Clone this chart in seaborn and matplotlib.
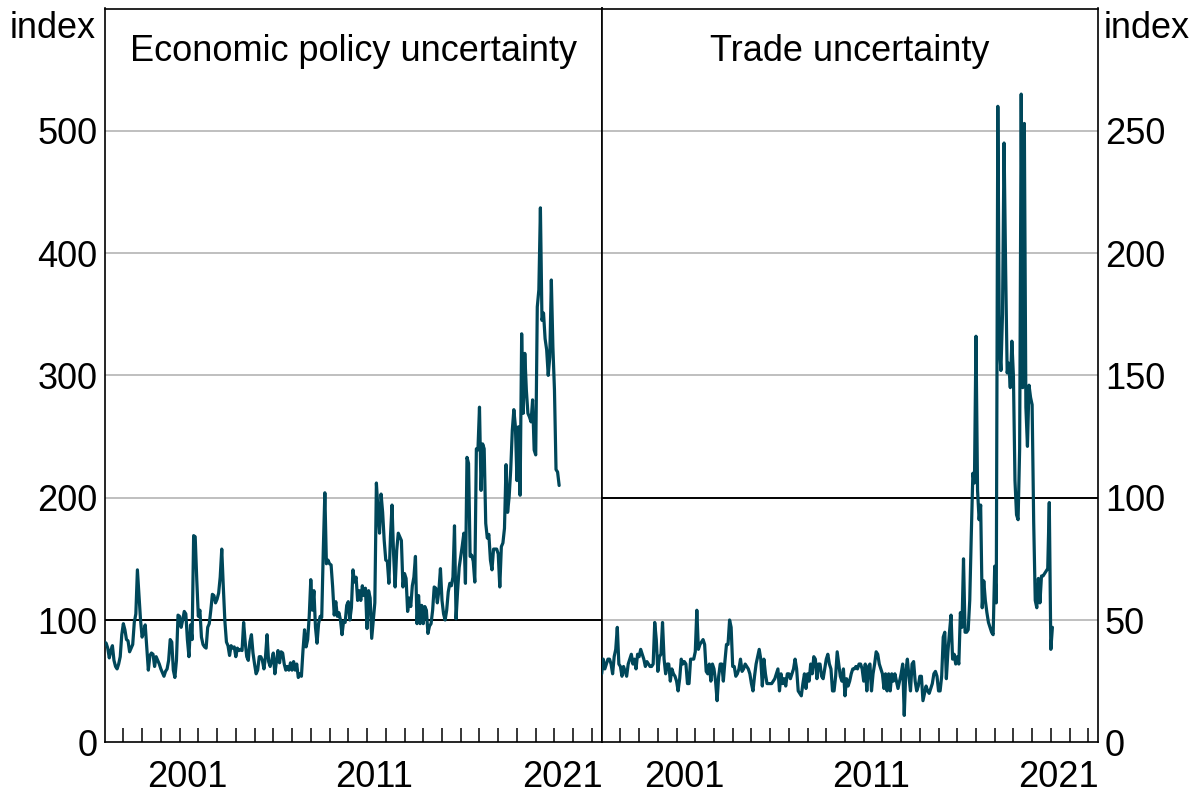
import numpy as np
import pandas as pd
import matplotlib
matplotlib.use("Agg")
import matplotlib.pyplot as plt
import seaborn as sns

# Monthly index values, starting January 1997
START_YEAR = 1997

epu_index = [
    82, 81, 77, 69, 75, 79, 67, 62, 60, 64, 70, 88,
    97, 92, 84, 83, 74, 77, 80, 98, 105, 141, 120, 100,
    86, 90, 96, 78, 59, 71, 73, 72, 62, 70, 67, 64,
    60, 57, 54, 58, 60, 67, 84, 82, 59, 53, 67, 104,
    103, 94, 100, 107, 105, 84, 70, 96, 84, 169, 168, 133,
    103, 108, 86, 80, 78, 77, 94, 97, 108, 121, 120, 114,
    117, 122, 135, 158, 127, 99, 82, 79, 71, 79, 77, 78,
    70, 77, 75, 76, 75, 98, 82, 70, 67, 82, 88, 73,
    64, 56, 59, 70, 70, 67, 60, 70, 88, 66, 62, 67,
    73, 56, 66, 75, 65, 74, 73, 64, 59, 62, 59, 65,
    59, 66, 59, 64, 53, 56, 54, 75, 92, 78, 84, 103,
    133, 108, 124, 94, 81, 97, 103, 102, 157, 204, 146, 149,
    146, 145, 127, 104, 115, 103, 106, 100, 88, 99, 98, 112,
    115, 100,
    110, 141, 131, 135, 116, 124, 116, 128, 120, 126, 93, 124, 118, 85, 100, 114,
    212, 190, 171, 203, 188, 165, 149, 148, 130, 168, 194, 154, 127, 157, 171, 168,
    165, 127, 138, 134, 107, 118, 111, 128, 135, 152,
    97, 120, 97, 112, 97,
    111, 108, 89, 95, 97, 108, 127, 126, 114, 124, 142, 116, 105, 100, 108, 123,
    130, 128, 135,
    177, 101, 124, 143, 152, 161, 171, 130, 233, 228,
    152, 153, 148, 131, 240, 239, 274,
    206, 244, 240, 179, 167, 170, 149, 141, 158, 158, 158, 154, 127, 160, 163, 175,
    227, 188, 201, 223, 255, 272, 258, 214, 258, 202, 334, 269, 318, 288, 269, 266,
    262, 280, 239, 235, 356, 370, 437, 345, 351, 330, 321, 300, 315,
    378, 323, 288, 223, 221, 210,
]

trade_index = [
    28, 34, 30, 32, 34, 34, 32, 28, 35, 38, 47, 32, 31, 27, 31, 29,
    27, 32, 34, 36, 32, 34, 30, 36, 35, 38, 36, 34, 31, 33, 32, 31,
    31, 32, 49, 42, 29, 35, 36, 49, 34, 28, 32, 32, 25, 30, 28, 27,
    25, 21, 26, 34, 32, 33, 32, 24, 24, 34, 34, 34, 37, 54, 38, 40,
    41, 42, 40, 29, 28, 32, 25, 32, 30, 25, 17, 27, 32, 32, 25, 33,
    40, 40, 50, 47, 31, 31, 27, 28, 30, 34, 29, 30, 32, 31, 30, 28,
    24, 21, 27, 32, 35, 38, 34, 23, 34, 28, 24, 24, 24, 24, 25, 26,
    28, 30, 21, 28, 24, 26, 23, 28, 28, 26, 28, 30, 34, 30, 21, 20,
    19, 24, 28, 22, 28, 25, 32, 28, 35, 34, 26, 32, 32, 27, 26, 30,
    34, 36, 32, 30, 21, 21, 27, 37, 32, 27, 25, 30, 19, 26, 23, 25,
    28, 30, 30, 31, 30, 32, 32, 30, 25, 32, 21, 31, 32, 21, 28, 32,
    37, 36, 32, 30, 28, 22, 28, 21, 28, 21, 28, 25, 28, 25, 22, 25,
    28, 32, 11, 29, 34, 27, 21, 32, 33, 25, 21, 23, 27, 27, 17, 20,
    23, 21, 20, 22, 24, 28, 29, 27, 21, 21, 27, 43, 45, 26, 37, 45,
    52, 34, 36, 32, 35, 32, 53, 47, 75, 45, 45, 46, 58,
    85, 110, 106, 166, 103, 91, 97, 55, 66, 58, 53, 49, 47, 45, 44, 72,
    57, 260, 162, 152, 175, 245, 194, 151, 155, 145, 164, 150, 107, 93, 91, 120,
    265, 145, 253, 137, 121, 146, 141, 138, 90, 58, 55, 67, 57, 68, 68, 69,
    70, 71, 98, 38, 47,
]

chart_title = "Global Policy Uncertainty"
panel_titles = ["Economic policy uncertainty", "Trade uncertainty"]
unit_label = "index"
year_labels = ["2001", "2011", "2021"]
left_yticks = [0, 100, 200, 300, 400, 500]
right_yticks = [0, 50, 100, 150, 200, 250]
left_ref = 100
right_ref = 100

LINE = "#00475A"
GRID = "#b4b4b4"
FS = 26


def monthly_frame(values):
    t = START_YEAR + np.arange(len(values)) / 12.0
    return pd.DataFrame({"year": t, "value": values})


sns.set_theme(style="white")
plt.rcParams["font.family"] = ["Liberation Sans", "DejaVu Sans"]

W, H = 1196, 796
fig = plt.figure(figsize=(W / 100, H / 100), dpi=100)
bottom = 53.7 / H
height = 733.8 / H
ax_l = fig.add_axes([104.6 / W, bottom, 497.1 / W, height])
ax_r = fig.add_axes([601.7 / W, bottom, 496.3 / W, height])

panels = [
    (ax_l, epu_index, (0, 600), left_yticks, left_ref, panel_titles[0]),
    (ax_r, trade_index, (0, 300), right_yticks, right_ref, panel_titles[1]),
]

for ax, values, ylim, yticks, ref, title in panels:
    sns.lineplot(data=monthly_frame(values), x="year", y="value", ax=ax,
                 color=LINE, linewidth=2.3, zorder=3)
    ax.set_xlim(1997, 2023.52)
    ax.set_ylim(*ylim)
    ax.set_xlabel("")
    ax.set_ylabel("")
    ax.set_yticks(yticks)
    ax.set_yticklabels([str(v) for v in yticks])
    for v in yticks[1:]:
        if v == ref:
            ax.axhline(v, color="black", linewidth=1.4, zorder=2)
        else:
            ax.axhline(v, color=GRID, linewidth=1.2, zorder=1)
    ax.set_xticks(np.arange(1998, 2024), minor=True)
    ax.set_xticks([2001.4, 2011.4, 2021.4])
    ax.set_xticklabels(year_labels)
    ax.tick_params(axis="x", which="minor", direction="in", length=10,
                   width=1.1, color="black", bottom=True)
    ax.tick_params(axis="x", which="major", length=0, pad=13,
                   labelsize=FS, colors="black")
    ax.tick_params(axis="y", length=0, labelsize=FS, colors="black", pad=5)
    for s in ax.spines.values():
        s.set_visible(True)
        s.set_color("black")
        s.set_linewidth(1.2)
    ax.text(0.5, 0.9285, title, transform=ax.transAxes, ha="center",
            va="baseline", fontsize=FS, color="black")

ax_r.yaxis.tick_right()
ax_r.tick_params(axis="y", length=0, labelsize=FS, pad=5)

fig.text(10 / W, 1 - 38 / H, unit_label, ha="left", va="baseline",
         fontsize=FS, color="black")
fig.text(1104 / W, 1 - 38 / H, unit_label, ha="left", va="baseline",
         fontsize=FS, color="black")
# Chart heading sits above the canvas edge; only its descenders reach the top
fig.text(0.5, 1 + 10.5 / H, chart_title, ha="center", va="baseline",
         fontsize=37, fontweight="bold", color="black")

fig.savefig("out.png", dpi=100)
